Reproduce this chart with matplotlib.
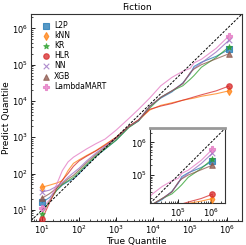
import numpy as np
import matplotlib
matplotlib.use("Agg")
import matplotlib.pyplot as plt

# true quantiles (x) shared by all models
true_q = [10, 16, 25, 35, 50, 70, 100, 160, 280, 500, 1000, 2200, 4000,
          8000, 16000, 32000, 63000, 100000, 126000, 200000, 500000, 1100000]

l2p = [16, 22, 35, 48, 60, 71, 100, 166, 295, 468, 832, 1905, 2820,
       7080, 12000, 17800, 31600, 56200, 89100, 117000, 170000, 263000]
knn = [42, 48, 55, 63, 120, 191, 240, 316, 427, 631, 1000, 2000, 2950,
       5620, 7590, 8910, 10500, 11500, 12000, 13500, 15800, 19000]
kr = [7.8, 18, 35, 50, 63, 79, 112, 178, 302, 479, 832, 1860, 2820,
      6310, 12600, 19000, 26300, 39800, 50100, 85100, 158000, 309000]
hlr = [5.6, 16, 40, 66, 100, 158, 224, 302, 417, 603, 1000, 2000, 3020,
       5890, 7240, 8510, 10500, 12000, 12900, 14800, 19000, 25700]
nn = [31, 35, 45, 56, 79, 105, 141, 224, 363, 562, 955, 2000, 2880,
      7080, 12600, 19000, 30200, 60300, 79400, 112000, 224000, 468000]
xgb = [21, 28, 40, 52, 71, 89, 126, 200, 331, 525, 933, 2000, 2950,
       7080, 12600, 19000, 30200, 60300, 75900, 100000, 145000, 200000]
lmart = [11, 19, 52, 120, 209, 282, 355, 479, 661, 891, 1580, 3310, 5890,
         12000, 26300, 44700, 66100, 79400, 112000, 141000, 282000, 617000]

models = ["L2P", "kNN", "KR", "HLR", "NN", "XGB", "LambdaMART"]
series = [l2p, knn, kr, hlr, nn, xgb, lmart]
markers = ["s", "d", "*", "o", "x", "^", "P"]
colors = ["#1f77b4", "#ff7f0e", "#2ca02c", "#d62728", "#9467bd", "#8c564b", "#e377c2"]

lim = (5, 2.5e6)
ilim = (1.35e4, 2.7e6)

plt.rcParams["font.family"] = "DejaVu Sans"
fig = plt.figure(figsize=(2.46, 2.45), dpi=100)
ax = fig.add_axes([0.126, 0.099, 0.858, 0.844])


def draw(a, with_start=True):
    for name, ys, m, c in zip(models, series, markers, colors):
        a.plot(true_q, ys, color=c, lw=0.8, alpha=0.75)
        xs = [true_q[0], true_q[-1]] if with_start else [true_q[-1]]
        ps = [ys[0], ys[-1]] if with_start else [ys[-1]]
        a.scatter(xs, ps, marker=m, color=c, s=16, alpha=0.75,
                  linewidths=0.8, label=name, zorder=3)


def style(a):
    a.set_xscale("log")
    a.set_yscale("log")
    a.tick_params(which="both", direction="in", labelsize=6, pad=2)
    a.tick_params(which="major", length=3, width=0.6)
    a.tick_params(which="minor", length=1.5, width=0.5)
    for s in a.spines.values():
        s.set_linewidth(0.8)
        s.set_color("#333333")


draw(ax)
ax.plot(lim, lim, "k--", lw=0.7, dashes=(2.5, 1.5))
style(ax)
ax.set_xlim(lim)
ax.set_ylim(lim)
ax.set_title("Fiction", fontsize=6.5, pad=2.5)
ax.set_xlabel("True Quantile", fontsize=6.5, labelpad=1)
ax.set_ylabel("Predict Quantile", fontsize=6.5, labelpad=1)
ax.legend(loc="upper left", fontsize=5.5, frameon=False, handletextpad=0.1,
          labelspacing=0.15, borderaxespad=0.5, scatterpoints=1)

ins = fig.add_axes([0.61, 0.17, 0.305, 0.306])
draw(ins, with_start=False)
ins.plot(ilim, ilim, "k--", lw=0.7, dashes=(2.5, 1.5))
style(ins)
ins.set_xlim(ilim)
ins.set_ylim(ilim)
ins.spines["top"].set_linewidth(2)
ins.spines["top"].set_color("#999999")

fig.savefig("out.png", dpi=100)
